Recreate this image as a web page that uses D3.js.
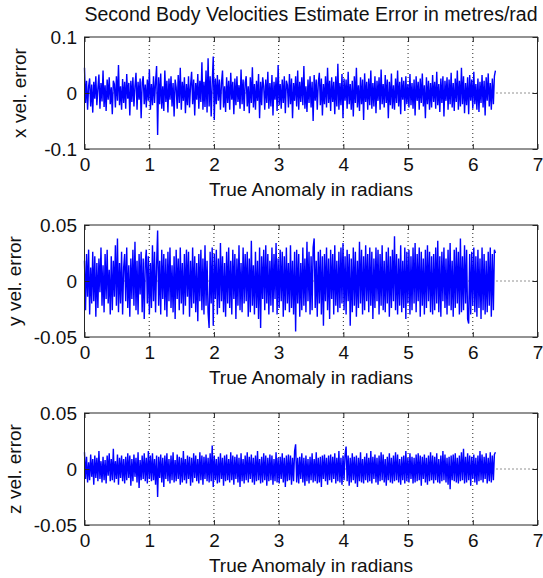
<!DOCTYPE html>
<html>
<head>
<meta charset="utf-8">
<script src="https://cdn.jsdelivr.net/npm/d3@7"></script>
<style>
  body { margin: 0; background: #fff; }
  svg { display: block; font-family: "Liberation Sans", Arial, sans-serif; }
</style>
</head>
<body>
<svg id="chart" width="543" height="578"></svg>
<script>
const titleText = "Second Body Velocities Estimate Error in metres/rad";
const xLabelText = "True Anomaly in radians";
const xTicks = [0, 1, 2, 3, 4, 5, 6, 7];
const xDomain = [0, 7];
const tEnd = 6.35; // last sample of the true anomaly

// velocity errors, equally spaced samples from 0 to tEnd
const xVelErr = [
  0.045,-0.018,0.022,-0.030,0.012,0.026,-0.024,0.015,-0.035,0.020,-0.010,0.030,-0.022,0.008,0.033,-0.028,0.018,-0.015,0.040,-0.025,
  0.014,-0.032,0.024,-0.012,0.028,-0.020,0.010,-0.038,0.022,0.016,-0.026,0.030,-0.014,0.050,-0.022,0.012,-0.030,0.025,-0.018,0.020,
  -0.028,0.034,-0.010,0.018,-0.040,0.022,-0.016,0.028,-0.024,0.012,0.036,-0.030,0.020,-0.012,0.026,-0.045,0.018,0.030,-0.020,0.015,
  -0.026,0.024,-0.014,0.042,-0.030,0.016,-0.022,0.030,-0.018,0.020,0.048,-0.075,0.028,-0.020,0.035,-0.028,0.012,-0.032,0.040,-0.016,
  0.022,-0.035,0.026,-0.012,0.030,-0.024,0.018,-0.042,0.024,0.010,-0.028,0.032,-0.018,0.045,-0.030,0.020,-0.014,0.028,-0.036,0.016,
  -0.022,0.030,-0.026,0.014,0.038,-0.020,0.024,-0.040,0.018,-0.012,0.034,-0.028,0.022,-0.016,0.055,-0.030,0.020,-0.025,0.040,-0.035,
  0.062,-0.024,0.030,-0.042,0.018,0.065,-0.048,0.026,-0.020,0.032,-0.014,0.024,-0.030,0.018,0.040,-0.026,0.012,-0.034,0.028,-0.018,
  0.022,-0.030,0.036,-0.012,0.020,-0.038,0.026,-0.022,0.030,-0.016,0.014,-0.028,0.042,-0.020,0.024,-0.032,0.018,0.030,-0.024,0.012,
  -0.036,0.028,-0.018,0.046,-0.026,0.016,-0.030,0.022,-0.014,0.034,-0.045,0.020,-0.022,0.028,0.012,-0.030,0.024,-0.018,0.038,-0.028,
  0.018,-0.024,0.032,-0.040,0.020,-0.012,0.028,-0.032,0.050,-0.022,0.016,-0.028,0.024,-0.018,0.030,-0.036,0.022,0.014,-0.026,0.034,
  -0.020,0.026,-0.045,0.018,-0.014,0.030,-0.024,0.040,-0.030,0.020,-0.016,0.028,-0.022,0.048,-0.028,0.012,-0.034,0.024,-0.018,0.030,
  -0.026,0.020,-0.050,0.032,-0.014,0.024,-0.030,0.018,0.036,-0.022,0.026,-0.040,0.016,-0.020,0.030,-0.026,0.045,-0.018,0.022,-0.032,
  0.028,-0.016,0.020,-0.038,0.030,-0.024,0.052,-0.030,0.018,-0.022,0.034,-0.045,0.026,-0.014,0.024,-0.028,0.038,-0.020,0.016,-0.030,
  0.022,-0.042,0.030,-0.018,0.045,-0.026,0.014,-0.032,0.028,-0.020,0.024,-0.048,0.035,-0.016,0.020,-0.030,0.026,-0.022,0.040,-0.028,
  0.018,-0.024,0.030,-0.036,0.022,-0.014,0.028,-0.030,0.042,-0.020,0.016,-0.026,0.032,-0.018,0.024,-0.045,0.020,-0.022,0.035,-0.028,
  0.014,-0.030,0.026,-0.018,0.040,-0.024,0.020,-0.038,0.028,-0.012,0.022,-0.032,0.030,-0.020,0.016,-0.026,0.034,-0.022,0.018,-0.028,
  0.024,-0.040,0.030,-0.014,0.020,-0.030,0.026,-0.018,0.035,-0.024,0.014,-0.045,0.028,-0.020,0.022,-0.030,0.018,-0.026,0.032,-0.016,
  0.020,-0.028,0.038,-0.022,0.016,-0.034,0.026,-0.018,0.030,-0.042,0.022,-0.014,0.028,-0.030,0.024,-0.020,0.036,-0.026,0.018,-0.032,
  0.026,-0.016,0.040,-0.030,0.022,-0.024,0.045,-0.020,0.030,-0.036,0.018,-0.022,0.028,-0.038,0.032,-0.014,0.024,-0.028,0.038,-0.020,
  0.016,-0.030,0.026,-0.034,0.020,-0.018,0.032,-0.026,0.022,-0.040,0.028,-0.014,0.035,-0.024,0.018,-0.030,0.026,-0.020,0.030,0.040
];

const yVelErr = [
  0.018,-0.026,0.024,-0.014,0.028,-0.030,0.012,-0.020,0.026,-0.018,0.022,-0.032,0.016,-0.024,0.020,-0.010,0.030,-0.022,0.014,-0.028,
  0.024,-0.016,0.028,-0.020,0.010,-0.030,0.022,-0.026,0.018,-0.014,0.032,-0.022,0.038,-0.028,0.016,-0.020,0.026,-0.030,0.012,0.024,
  -0.018,0.030,-0.024,0.014,-0.032,0.020,-0.016,0.028,-0.022,0.035,-0.026,0.018,-0.030,0.024,-0.012,0.026,-0.028,0.020,-0.034,0.016,
  0.028,-0.020,0.022,-0.030,0.016,-0.024,0.032,-0.018,0.026,-0.028,0.014,0.045,-0.022,0.018,-0.030,0.028,-0.016,0.024,-0.026,0.020,
  -0.032,0.026,-0.018,0.030,-0.024,0.014,-0.028,0.022,-0.034,0.028,-0.016,0.020,-0.026,0.030,-0.020,0.016,-0.030,0.024,-0.022,0.028,
  -0.014,0.026,-0.032,0.018,-0.024,0.030,-0.020,0.022,-0.028,0.016,-0.036,0.024,-0.018,0.028,-0.026,0.020,-0.030,0.032,-0.022,0.018,
  -0.028,-0.042,0.026,-0.020,0.030,-0.040,0.024,-0.016,0.028,-0.030,0.020,-0.024,0.034,-0.018,0.022,-0.028,0.016,-0.032,0.026,-0.020,
  0.030,-0.024,0.018,-0.030,0.028,-0.016,0.024,-0.034,0.020,-0.022,0.032,-0.026,0.016,-0.028,0.030,-0.020,0.024,-0.018,0.026,-0.032,
  0.020,-0.028,0.036,-0.022,0.014,-0.030,0.026,-0.024,0.018,-0.034,0.030,-0.042,0.022,-0.016,0.028,-0.026,0.032,-0.020,0.024,-0.030,
  0.018,-0.022,0.030,-0.028,0.024,-0.016,0.034,-0.030,0.020,-0.024,0.028,-0.018,0.026,-0.032,0.022,-0.026,0.030,-0.020,0.016,-0.028,
  0.032,-0.024,0.018,-0.030,0.026,-0.045,0.028,-0.020,0.024,-0.032,0.016,-0.026,0.030,-0.022,0.020,-0.028,0.035,-0.018,0.026,-0.030,
  0.022,-0.026,0.030,0.038,-0.024,0.018,-0.032,0.026,-0.020,0.028,-0.030,0.022,-0.040,0.024,-0.018,0.030,-0.026,0.020,-0.034,0.028,
  -0.016,0.024,-0.030,0.032,-0.022,0.018,-0.028,0.026,-0.024,0.030,-0.020,0.034,-0.026,0.022,-0.030,0.028,-0.018,0.024,-0.040,0.020,
  -0.028,0.030,-0.022,0.026,-0.032,0.018,-0.024,0.035,-0.020,0.028,-0.030,0.022,-0.026,0.032,-0.018,0.024,-0.028,0.030,-0.022,0.026,
  -0.034,0.020,-0.024,0.030,-0.018,0.028,-0.030,0.024,-0.022,0.032,-0.026,0.018,-0.028,0.026,-0.020,0.030,-0.032,0.022,-0.024,0.028,
  -0.018,0.040,-0.026,0.024,-0.030,0.020,-0.022,0.032,-0.028,0.018,-0.024,0.030,-0.034,0.026,-0.020,0.028,-0.030,0.022,-0.026,0.030,
  -0.020,0.034,-0.028,0.024,-0.018,0.030,-0.032,0.026,-0.022,0.020,-0.030,0.028,-0.024,0.032,-0.018,0.026,-0.028,0.022,-0.030,0.024,
  -0.026,0.030,-0.020,0.036,-0.028,0.022,-0.032,0.026,-0.018,0.030,-0.024,0.020,-0.030,0.028,-0.022,0.034,-0.026,0.018,-0.032,0.028,
  -0.024,0.030,-0.020,0.026,-0.030,0.038,-0.028,0.022,-0.026,0.032,-0.020,0.028,-0.034,-0.038,0.024,-0.030,0.026,-0.022,0.030,-0.028,
  0.022,-0.032,0.028,-0.024,0.020,-0.034,0.030,-0.026,0.024,-0.030,0.018,-0.028,0.026,-0.022,0.030,-0.032,0.024,-0.026,0.028,0.025
];

const zVelErr = [
  0.015,-0.009,0.011,-0.012,0.006,-0.010,0.013,-0.007,0.009,-0.014,0.012,-0.008,0.010,-0.011,0.016,-0.009,0.007,-0.012,0.011,-0.010,
  0.008,-0.013,0.012,-0.006,0.014,-0.011,0.009,-0.010,0.018,-0.012,0.007,-0.009,0.013,-0.014,0.010,-0.008,0.012,-0.011,0.009,-0.013,
  0.011,-0.010,0.014,-0.008,0.012,-0.015,0.009,-0.011,0.013,-0.007,0.010,-0.012,0.015,-0.017,0.008,-0.010,0.012,-0.009,0.014,-0.011,
  0.010,-0.013,0.016,-0.009,0.012,-0.011,0.014,-0.010,0.009,-0.014,0.012,-0.025,0.011,-0.008,0.013,-0.012,0.010,-0.016,0.012,-0.009,
  0.014,-0.011,0.009,-0.013,0.012,-0.010,0.015,-0.012,0.008,-0.011,0.013,-0.009,0.011,-0.014,0.010,-0.012,0.016,-0.010,0.009,-0.013,
  0.012,-0.009,0.011,-0.015,0.010,-0.012,0.014,-0.008,0.012,-0.011,0.009,-0.013,0.015,-0.010,0.012,-0.014,0.011,-0.009,0.013,-0.011,
  0.010,-0.012,0.014,-0.011,0.021,-0.016,0.012,-0.010,0.009,-0.013,0.011,-0.012,0.014,-0.009,0.010,-0.015,0.012,-0.011,0.013,-0.010,
  0.009,-0.012,0.015,-0.010,0.012,-0.014,0.011,-0.009,0.013,-0.012,0.010,-0.016,0.014,-0.011,0.009,-0.013,0.012,-0.010,0.015,-0.012,
  0.011,-0.009,0.013,-0.012,0.010,-0.014,0.012,-0.011,0.016,-0.010,0.009,-0.013,0.011,-0.012,0.014,-0.010,0.012,-0.015,0.010,-0.011,
  0.013,-0.010,0.012,-0.014,0.009,-0.011,0.015,-0.012,0.010,-0.013,0.011,-0.009,0.014,-0.012,0.010,-0.016,0.012,-0.011,0.013,-0.010,
  0.012,-0.014,0.010,-0.011,0.016,0.022,-0.012,0.010,-0.013,0.011,-0.009,0.014,-0.012,0.010,-0.015,0.012,-0.011,0.009,-0.013,0.011,
  -0.010,0.014,-0.012,0.009,-0.011,0.015,-0.013,0.010,-0.012,0.011,-0.016,0.012,-0.009,0.013,-0.011,0.010,-0.014,0.012,-0.010,0.013,
  -0.012,0.011,-0.009,0.014,-0.013,0.010,-0.011,0.016,-0.012,0.010,-0.014,0.012,-0.010,0.013,0.020,-0.011,0.012,-0.015,0.010,-0.012,
  0.014,-0.010,0.011,-0.013,0.012,-0.016,0.010,-0.011,0.015,-0.012,0.009,-0.013,0.011,-0.010,0.014,-0.012,0.010,-0.011,0.016,-0.013,
  0.011,-0.009,0.013,-0.012,0.010,-0.014,0.012,-0.011,0.015,-0.010,0.013,-0.012,0.009,-0.015,0.011,-0.010,0.014,-0.012,0.010,-0.013,
  0.012,-0.011,0.015,-0.010,0.013,-0.012,0.009,-0.014,0.011,-0.010,0.012,-0.013,0.016,-0.011,0.010,-0.012,0.014,-0.009,0.011,-0.013,
  0.010,-0.012,0.013,-0.011,0.014,-0.010,0.012,-0.015,0.011,-0.009,0.013,-0.012,0.010,-0.014,0.012,-0.011,0.015,-0.010,0.012,-0.013,
  0.011,-0.010,0.014,-0.012,0.009,-0.013,0.012,-0.011,0.016,-0.010,0.013,-0.012,0.010,-0.014,0.011,-0.018,0.012,-0.010,0.013,-0.011,
  0.014,-0.012,0.010,-0.013,0.012,-0.011,0.015,-0.010,0.018,-0.013,0.011,-0.012,0.014,-0.010,0.012,-0.015,0.011,-0.009,0.013,-0.012,
  0.010,-0.014,0.012,-0.011,0.016,-0.010,0.013,-0.012,0.011,-0.009,0.014,-0.013,0.010,-0.011,0.015,-0.012,0.012,-0.010,0.013,0.015
];

const panelLabels = ["x vel. error", "y vel. error", "z vel. error"];
const panelDomains = [[-0.1, 0.1], [-0.05, 0.05], [-0.05, 0.05]];
const panelTicks = [[-0.1, 0, 0.1], [-0.05, 0, 0.05], [-0.05, 0, 0.05]];
const panelSeries = [xVelErr, yVelErr, zVelErr];

// layout
const plotLeft = 84.5;
const plotRight = 537.5;
const panelTops = [37, 225, 413];
const panelHeight = 112;
const yLabelX = [26, 21, 21];
const tickLen = 5;
const axisColor = "#262626";

const svg = d3.select("#chart");

const x = d3.scaleLinear().domain(xDomain).range([plotLeft, plotRight]);

svg.append("text")
  .attr("x", (plotLeft + plotRight) / 2)
  .attr("y", 21)
  .attr("text-anchor", "middle")
  .attr("font-size", 19.5)
  .attr("fill", "#111")
  .text(titleText);

panelSeries.forEach((values, k) => {
  const top = panelTops[k];
  const bottom = top + panelHeight;
  const y = d3.scaleLinear().domain(panelDomains[k]).range([bottom, top]);
  const g = svg.append("g").attr("class", "panel");

  // dotted grid (under the trace)
  g.selectAll(".vgrid")
    .data(xTicks.filter((t) => t > xDomain[0] && t < xDomain[1]))
    .join("line")
    .attr("class", "vgrid")
    .attr("x1", (d) => x(d)).attr("x2", (d) => x(d))
    .attr("y1", top).attr("y2", bottom)
    .attr("stroke", axisColor)
    .attr("stroke-dasharray", "1,3");

  g.selectAll(".hgrid")
    .data(panelTicks[k].filter((t) => t > panelDomains[k][0] && t < panelDomains[k][1]))
    .join("line")
    .attr("class", "hgrid")
    .attr("x1", plotLeft).attr("x2", plotRight)
    .attr("y1", (d) => y(d)).attr("y2", (d) => y(d))
    .attr("stroke", axisColor)
    .attr("stroke-dasharray", "1,3");

  // trace
  const step = tEnd / (values.length - 1);
  const line = d3.line()
    .x((d, i) => x(i * step))
    .y((d) => y(d));

  g.append("path")
    .datum(values)
    .attr("d", line)
    .attr("fill", "none")
    .attr("stroke", "#0000ff")
    .attr("stroke-width", 1.4);

  // axes, ticks pointing inwards
  const xAxisB = g.append("g")
    .attr("transform", `translate(0,${bottom})`)
    .call(d3.axisBottom(x).tickValues(xTicks).tickSizeInner(-tickLen).tickSizeOuter(0).tickPadding(8.5).tickFormat(String));
  const xAxisT = g.append("g")
    .attr("transform", `translate(0,${top})`)
    .call(d3.axisTop(x).tickValues(xTicks).tickSizeInner(-tickLen).tickSizeOuter(0).tickFormat(""));
  const yAxisL = g.append("g")
    .attr("transform", `translate(${plotLeft},0)`)
    .call(d3.axisLeft(y).tickValues(panelTicks[k]).tickSizeInner(-tickLen).tickSizeOuter(0).tickPadding(7.5).tickFormat(String));
  const yAxisR = g.append("g")
    .attr("transform", `translate(${plotRight},0)`)
    .call(d3.axisRight(y).tickValues(panelTicks[k]).tickSizeInner(-tickLen).tickSizeOuter(0).tickFormat(""));

  [xAxisB, xAxisT, yAxisL, yAxisR].forEach((a) => {
    a.select(".domain").remove();
    a.attr("color", axisColor)
      .attr("font-family", null)
      .attr("font-size", 19);
    a.selectAll("text").attr("fill", "#111");
  });

  g.append("rect")
    .attr("x", plotLeft).attr("y", top)
    .attr("width", plotRight - plotLeft).attr("height", panelHeight)
    .attr("fill", "none")
    .attr("stroke", axisColor)
    .attr("stroke-width", 1);

  g.append("text")
    .attr("x", (plotLeft + plotRight) / 2)
    .attr("y", bottom + 47)
    .attr("text-anchor", "middle")
    .attr("font-size", 19)
    .attr("fill", "#111")
    .text(xLabelText);

  g.append("text")
    .attr("transform", `translate(${yLabelX[k]},${(top + bottom) / 2}) rotate(-90)`)
    .attr("text-anchor", "middle")
    .attr("font-size", 19)
    .attr("fill", "#111")
    .text(panelLabels[k]);
});
</script>
</body>
</html>
